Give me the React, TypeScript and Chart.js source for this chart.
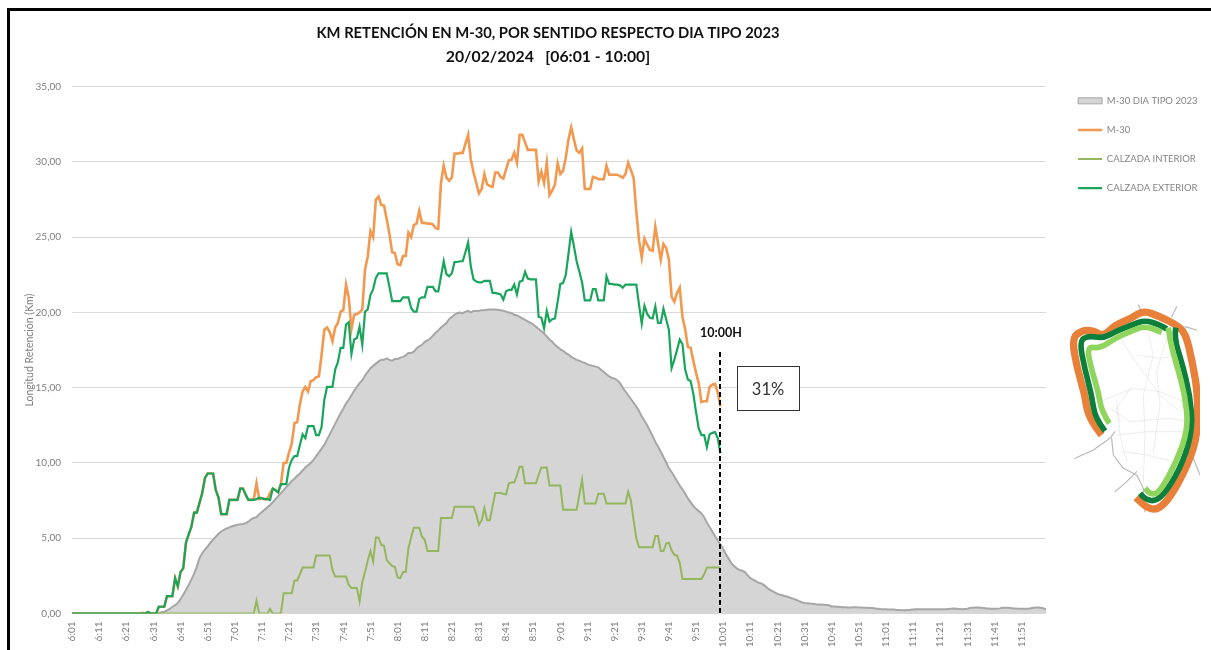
import React, { useEffect, useRef } from "react";
import { Chart, registerables } from "chart.js";

Chart.register(...registerables);

const FONT = "Lato, 'Open Sans', sans-serif";
const timeLabels: string[] = [];
for (let h = 6; h < 12; h++) {
  for (let m = 1; m <= 60; m++) {
    timeLabels.push(m === 60 ? `${h + 1}:00` : `${h}:${String(m).padStart(2, "0")}`);
  }
}

const seriesNames = ["M-30 DIA TIPO 2023", "M-30", "CALZADA INTERIOR", "CALZADA EXTERIOR"];

const diaTipo = [
  0,0,0,0,0,0,0,0,0,0,
  0,0,0,0,0,0,0,0,0,0,
  0,0,0,0,0,0,0,0,0,0,
  0,0,0.03,0.08,0.12,0.2,0.3,0.45,0.55,0.7,
  0.95,1.25,1.56,1.9,2.25,2.65,3.1,3.7,4.0,4.25,
  4.45,4.7,4.9,5.1,5.3,5.45,5.55,5.65,5.72,5.8,
  5.85,5.9,5.93,5.95,6.0,6.1,6.25,6.35,6.4,6.6,
  6.75,6.9,7.05,7.2,7.4,7.6,7.8,8.0,8.2,8.4,
  8.6,8.8,8.95,9.15,9.3,9.5,9.7,9.85,10.0,10.2,
  10.45,10.7,10.95,11.2,11.55,11.9,12.25,12.6,12.95,13.3,
  13.6,13.95,14.2,14.5,14.8,15.05,15.3,15.5,15.8,16.05,
  16.3,16.45,16.6,16.75,16.85,16.85,16.95,16.85,16.8,16.9,
  16.9,17.0,17.05,17.15,17.3,17.3,17.4,17.6,17.75,17.85,
  18.05,18.15,18.25,18.45,18.65,18.8,19.0,19.15,19.3,19.55,
  19.7,19.85,19.95,20.0,19.95,20.05,20.1,20.0,20.1,20.1,
  20.12,20.15,20.15,20.18,20.2,20.2,20.2,20.18,20.15,20.12,
  20.05,20.0,19.95,19.85,19.8,19.7,19.6,19.5,19.4,19.3,
  19.2,19.05,18.9,18.75,18.6,18.4,18.2,18.05,17.85,17.7,
  17.55,17.45,17.3,17.2,17.05,16.95,16.85,16.8,16.7,16.65,
  16.55,16.5,16.45,16.4,16.35,16.2,16.05,15.9,15.75,15.65,
  15.6,15.5,15.3,15.0,14.75,14.5,14.25,14.0,13.75,13.45,
  13.1,12.8,12.5,12.15,11.8,11.4,11.1,10.75,10.4,10.05,
  9.65,9.4,9.1,8.8,8.5,8.25,7.95,7.65,7.4,7.15,
  6.95,6.8,6.65,6.4,6.05,5.75,5.45,5.15,4.85,4.6,
  4.3,3.95,3.65,3.35,3.15,3.0,2.9,2.85,2.75,2.55,
  2.35,2.25,2.15,2.05,2.0,1.9,1.75,1.6,1.5,1.4,
  1.3,1.25,1.2,1.15,1.1,1.03,0.97,0.9,0.82,0.75,
  0.7,0.68,0.66,0.65,0.62,0.6,0.6,0.58,0.57,0.55,
  0.47,0.46,0.45,0.44,0.42,0.42,0.4,0.4,0.42,0.41,
  0.4,0.4,0.39,0.38,0.37,0.36,0.34,0.32,0.3,0.29,
  0.28,0.27,0.27,0.26,0.24,0.23,0.22,0.22,0.24,0.25,
  0.27,0.28,0.28,0.28,0.28,0.28,0.28,0.28,0.28,0.28,
  0.28,0.28,0.28,0.3,0.32,0.33,0.32,0.3,0.28,0.3,
  0.32,0.36,0.39,0.4,0.4,0.39,0.37,0.34,0.33,0.32,
  0.32,0.32,0.34,0.38,0.39,0.39,0.37,0.34,0.33,0.32,
  0.32,0.32,0.32,0.33,0.37,0.4,0.4,0.38,0.35,0.27,
];

const m30 = [
  0,0,0,0,0,0,0,0,0,0,
  0,0,0,0,0,0,0,0,0,0,
  0,0,0,0,0,0,0.05,0,0.1,0,
  0,0,0.45,0.45,0.45,1.15,1.15,1.15,2.35,1.8,
  2.75,3.0,4.7,5.25,5.75,6.7,6.7,7.35,8.0,9.0,
  9.3,9.3,9.3,8.2,7.7,6.6,6.6,6.6,7.55,7.55,
  7.55,7.55,8.3,8.3,7.9,7.55,7.55,7.6,8.65,7.6,
  7.65,7.6,7.6,8.0,8.3,8.2,8.05,8.6,10.0,10.0,
  10.7,11.3,12.65,12.7,13.9,14.75,15.05,14.75,15.45,15.5,
  15.7,15.75,17.2,18.85,19.0,18.7,18.1,19.0,19.3,20.05,
  20.15,21.85,21.0,18.9,19.85,19.9,20.0,20.2,22.85,23.7,
  25.4,25.0,27.5,27.7,27.15,27.1,26.2,25.2,24.0,23.95,
  23.2,23.15,23.75,23.75,25.3,25.0,25.8,25.9,26.75,25.95,
  25.95,25.9,25.9,25.85,25.6,25.55,28.6,29.75,28.95,28.75,
  28.95,30.55,30.55,30.6,30.6,31.2,31.8,30.15,29.3,28.6,
  27.9,28.2,29.2,28.5,28.4,28.35,29.3,29.3,29.0,28.9,
  29.5,30.1,30.15,30.6,29.95,31.8,31.8,31.3,30.8,30.8,
  30.8,30.8,28.7,29.35,28.6,29.95,27.8,28.1,28.5,29.9,
  29.2,29.4,30.3,31.5,32.3,31.5,30.75,30.6,30.9,28.2,
  28.2,28.2,29.0,28.95,28.85,28.85,28.85,29.75,29.15,29.15,
  29.15,29.15,29.05,28.95,29.2,29.95,29.45,28.95,26.7,24.8,
  23.65,24.9,24.5,24.15,24.1,25.7,24.6,23.5,24.55,24.3,
  23.5,21.05,20.7,21.3,21.65,19.7,18.9,17.7,17.65,16.8,
  16.0,15.3,14.05,14.1,14.1,15.05,15.2,15.25,14.7,13.75,
];

const calzadaInterior = [
  0,0,0,0,0,0,0,0,0,0,
  0,0,0,0,0,0,0,0,0,0,
  0,0,0,0,0,0,0,0,0,0,
  0,0,0,0,0,0,0,0,0,0,
  0,0,0,0,0,0,0,0,0,0,
  0,0,0,0,0,0,0,0,0,0,
  0,0,0,0,0,0,0,0,0.85,0,
  0,0,0,0.3,0,0,0,0,1.35,1.35,
  1.35,1.35,2.2,2.2,2.6,3.05,3.05,3.05,3.05,3.05,
  3.85,3.85,3.85,3.85,3.85,3.85,2.9,2.45,2.45,2.45,
  2.45,2.45,1.9,1.7,1.7,1.7,0.8,2.1,2.75,3.5,
  4.15,3.45,5.05,5.05,4.55,4.5,3.55,3.35,3.15,3.1,
  2.4,2.35,2.75,2.75,4.35,5.05,5.7,5.7,5.7,5.1,
  4.9,4.15,4.15,4.15,4.15,4.15,6.35,6.35,6.35,6.35,
  6.35,7.1,7.1,7.1,7.1,7.1,7.1,7.1,7.1,6.6,
  5.9,6.2,7.0,6.2,6.2,7.1,8.0,8.0,8.0,7.95,
  7.9,8.65,8.7,8.7,9.2,9.75,9.75,8.65,8.65,8.65,
  8.65,8.65,9.2,9.7,9.7,9.7,8.5,8.5,8.5,8.5,
  8.5,6.9,6.9,6.9,6.9,6.9,6.9,7.9,8.9,7.3,
  7.3,7.3,7.3,7.3,7.95,7.95,7.95,7.3,7.3,7.3,
  7.3,7.3,7.3,7.3,7.3,8.1,7.5,6.2,5.0,4.4,
  4.4,4.4,4.4,4.4,4.4,5.15,5.15,4.15,4.15,4.65,
  4.7,4.2,3.9,3.85,3.35,2.3,2.3,2.3,2.3,2.3,
  2.3,2.3,2.3,2.6,3.05,3.05,3.05,3.05,3.05,3.05,
];

const calzadaExterior = [
  0,0,0,0,0,0,0,0,0,0,
  0,0,0,0,0,0,0,0,0,0,
  0,0,0,0,0,0,0,0,0.1,0,
  0,0,0.45,0.45,0.45,1.15,1.15,1.15,2.35,1.8,
  2.75,3.0,4.7,5.25,5.75,6.7,6.7,7.35,8.0,9.0,
  9.3,9.3,9.3,8.2,7.7,6.6,6.6,6.6,7.55,7.55,
  7.55,7.55,8.3,8.3,7.9,7.55,7.55,7.55,7.6,7.7,
  7.65,7.6,7.6,7.55,8.3,8.2,8.05,8.6,8.6,8.6,
  9.7,10.2,10.45,10.45,11.2,11.9,11.65,12.45,12.45,12.45,
  11.85,11.85,12.4,14.2,15.05,15.05,15.05,16.2,16.7,17.65,
  17.65,19.2,19.35,17.25,18.2,18.3,19.05,17.85,20.05,20.2,
  21.15,21.55,22.3,22.6,22.6,22.6,22.6,21.7,20.75,20.75,
  20.75,20.75,21.0,21.0,21.0,20.3,20.05,20.05,20.9,21.0,
  21.0,21.7,21.7,21.7,21.4,21.4,22.4,23.4,22.55,22.4,
  22.6,23.35,23.35,23.4,23.4,24.0,24.65,23.05,22.2,22.05,
  22.0,22.0,22.1,22.1,22.1,21.3,21.3,21.25,21.2,20.85,
  21.4,21.5,21.5,21.85,21.2,22.05,22.1,22.7,22.25,22.2,
  22.2,22.2,19.7,19.65,18.95,20.1,19.4,19.55,19.6,20.7,
  21.9,21.95,22.5,23.9,25.35,24.4,23.4,22.7,22.0,20.8,
  20.8,20.8,21.55,21.55,20.8,20.8,20.8,22.4,21.9,21.9,
  21.85,21.85,21.8,21.65,21.85,21.85,21.85,21.85,21.85,20.5,
  19.25,20.45,19.9,19.65,19.6,20.4,19.3,19.3,20.25,19.55,
  18.85,16.3,16.85,17.5,18.2,17.9,16.2,15.55,15.45,14.6,
  13.4,12.3,11.85,11.85,11.05,11.9,12.0,12.05,11.65,10.65,
];

const titleText = "KM RETENCIÓN EN M-30, POR SENTIDO RESPECTO DIA TIPO 2023";
const subtitleText = "20/02/2024   [06:01 - 10:00]";
const cutIndex = 239;
const cutLabel = "10:00H";
const cutPercent = "31%";

const decorations = {
  id: "decorations",
  beforeDraw(chart: any) {
    const c = chart.ctx;
    c.save();
    c.fillStyle = "#fff";
    c.fillRect(0, 0, chart.width, chart.height);
    c.fillStyle = "#000";
    c.fillRect(7, 8, 3, chart.height - 8);
    c.fillRect(7, 8, chart.width - 7, 3);
    c.restore();
  },
  beforeLayout(chart: any) {
    const l = chart.legend;
    if (l && !l.__patched) {
      const f = l.fit;
      l.fit = function () {
        f.call(this);
        this.width = 165;
      };
      l.__patched = true;
    }
  },
  afterLayout(chart: any) {
    chart.boxes
      .filter((b: any) => b.options && typeof b.options.text === "string" && b.position === "top")
      .forEach((b: any) => {
        b.left = 0;
        b.right = 1096;
      });
    chart.legend.left = 1058.5;
    chart.legend.top = 76.5;
  },
  afterDatasetsDraw(chart: any) {
    const c = chart.ctx;
    const x = Math.round(chart.scales.x.getPixelForValue(cutIndex));
    const bottom = chart.scales.y.getPixelForValue(0);
    c.save();
    c.strokeStyle = "#000";
    c.lineWidth = 2;
    c.setLineDash([5, 3]);
    c.beginPath();
    c.moveTo(x, 352);
    c.lineTo(x, bottom);
    c.stroke();
    c.setLineDash([]);
    c.fillStyle = "#111";
    c.font = `bold 12.5px ${FONT}`;
    c.textAlign = "center";
    c.textBaseline = "middle";
    c.fillText(cutLabel, x + 1, 333);
    c.fillStyle = "#fff";
    c.fillRect(737, 366, 63, 44);
    c.strokeStyle = "#333";
    c.lineWidth = 1;
    c.strokeRect(737.5, 366.5, 62, 44);
    c.fillStyle = "#333";
    c.font = `16.5px ${FONT}`;
    c.fillText(cutPercent, 768, 390);
    c.restore();
  },
};

const smooth = (pts: number[][]) => {
  let d = `M${pts[0][0]} ${pts[0][1]}`;
  for (let i = 1; i < pts.length - 1; i++) {
    const mx = (pts[i][0] + pts[i + 1][0]) / 2;
    const my = (pts[i][1] + pts[i + 1][1]) / 2;
    d += `Q${pts[i][0]} ${pts[i][1]} ${mx} ${my}`;
  }
  const last = pts[pts.length - 1];
  return `${d}L${last[0]} ${last[1]}`;
};

const roads = [
  "M235 30L245 50", "M350 35L335 65", "M375 95L410 105", "M45 490L100 465L150 430L165 410",
  "M165 590L195 565L230 530", "M155 430L160 480L190 520L230 540L250 580L255 650", "M400 490L420 540",
];
const faint = [
  "M265 115L280 180L250 300L255 420L250 560", "M180 130L220 190L300 300L360 350", "M120 320L220 280L300 290L370 320",
  "M150 340L210 380L330 370L385 380", "M320 130L290 230L300 330L280 470", "M170 420L260 410L380 410", "M190 470L260 480L340 500",
  "M170 320L180 420L200 500", "M215 275L170 340L180 380", "M230 180L300 190L350 180",
];
const ringOrange = smooth([[125,420],[85,370],[75,300],[50,215],[36,130],[65,106],[100,106],[130,125],[165,90],[215,70],[250,46],[300,65],[355,92],[378,120],[397,200],[414,300],[412,420],[387,500],[342,590],[300,642],[265,642],[228,608]]);
const darkA = smooth([[135,408],[105,370],[95,300],[75,225],[58,138],[85,122],[130,130],[165,110],[215,90],[255,75],[300,90],[320,102]]);
const darkB = smooth([[347,98],[343,130],[365,200],[390,300],[398,400],[370,500],[320,590],[285,620],[255,612],[240,595]]);
const lightA = smooth([[148,385],[125,350],[115,290],[95,225],[80,155],[120,160],[165,130],[210,110],[255,92],[305,112]]);
const lightB = smooth([[325,98],[330,140],[350,210],[375,300],[385,400],[350,500],[300,590],[275,600],[255,580]]);

export default function App() {
  const ref = useRef<HTMLCanvasElement | null>(null);

  useEffect(() => {
    const chart = new Chart(ref.current as HTMLCanvasElement, {
      type: "line",
      plugins: [decorations],
      data: {
        labels: timeLabels,
        datasets: [
          { label: seriesNames[0], data: diaTipo, order: 4, borderColor: "#a6a6a6", backgroundColor: "#d5d5d5", borderWidth: 2, fill: "origin", pointRadius: 0, tension: 0 },
          { label: seriesNames[1], data: m30, order: 3, borderColor: "#f2994f", backgroundColor: "#f2994f", borderWidth: 2.6, pointRadius: 0, tension: 0 },
          { label: seriesNames[2], data: calzadaInterior, order: 2, borderColor: "#94b65c", backgroundColor: "#94b65c", borderWidth: 2, pointRadius: 0, tension: 0 },
          { label: seriesNames[3], data: calzadaExterior, order: 1, borderColor: "#19a55c", backgroundColor: "#19a55c", borderWidth: 2.2, pointRadius: 0, tension: 0 },
        ],
      },
      options: {
        responsive: false,
        animation: false,
        layout: { padding: 0 },
        plugins: {
          tooltip: { enabled: false },
          title: {
            display: true,
            text: titleText,
            color: "#111",
            font: { family: FONT, size: 14.75, weight: "bold", lineHeight: 1.2 },
            padding: { top: 24, bottom: 0 },
          },
          subtitle: {
            display: true,
            text: subtitleText,
            color: "#111",
            font: { family: FONT, size: 15.8, weight: "bold", lineHeight: 1.2 },
            padding: { top: 6, bottom: 20 },
          },
          legend: {
            display: true,
            position: "right",
            align: "start",
            labels: {
              usePointStyle: true,
              pointStyleWidth: 24,
              boxHeight: 6,
              padding: 19.6,
              color: "#858585",
              font: { family: FONT, size: 9.5 },
              generateLabels: (ch: any) =>
                ch.data.datasets.map((d: any, i: number) => ({
                  text: d.label,
                  datasetIndex: i,
                  hidden: false,
                  pointStyle: i === 0 ? "rect" : "line",
                  fillStyle: d.backgroundColor,
                  strokeStyle: d.borderColor,
                  lineWidth: i === 0 ? 1 : d.borderWidth,
                  fontColor: "#858585",
                })),
            },
          },
        },
        scales: {
          x: {
            afterFit: (s: any) => { s.height = 36.5; },
            grid: { display: false, drawTicks: false },
            border: { display: false },
            ticks: {
              autoSkip: false,
              minRotation: 90,
              maxRotation: 90,
              padding: 8,
              color: "#7f7f7f",
              font: { family: FONT, size: 10 },
              callback: (_v: any, i: number) => (i % 10 === 0 ? timeLabels[i] : ""),
            },
          },
          y: {
            min: 0,
            max: 35,
            afterFit: (s: any) => { s.width = 72; },
            grid: { color: "#d9d9d9", lineWidth: 1, drawTicks: false },
            border: { display: false },
            ticks: {
              stepSize: 5,
              padding: 11,
              color: "#7f7f7f",
              font: { family: FONT, size: 10 },
              callback: (v: any) => Number(v).toFixed(2).replace(".", ","),
            },
            title: {
              display: true,
              text: "Longitud Retención (Km)",
              color: "#7f7f7f",
              font: { family: FONT, size: 10.5 },
              padding: { top: 23, bottom: 0 },
            },
          },
        },
      },
    } as any);
    return () => chart.destroy();
  }, []);

  return (
    <div style={{ position: "absolute", left: 0, top: 0, width: 1211, height: 650, overflow: "hidden", background: "#fff" }}>
      <canvas ref={ref} width={1211} height={650} style={{ display: "block" }} />
      <svg width={140} height={225} viewBox="0 0 420 675" style={{ position: "absolute", left: 1060, top: 295 }}>
        <g fill="none" strokeLinejoin="round" strokeLinecap="round">
          {faint.map((d) => <path key={d} d={d} stroke="#e2e2e2" strokeWidth={2} />)}
          {roads.map((d) => <path key={d} d={d} stroke="#b8b8b8" strokeWidth={3.5} />)}
        </g>
        <g fill="none" strokeLinejoin="round" strokeLinecap="butt">
          <path d={ringOrange} stroke="#e8803a" strokeWidth={22} />
          <path d={darkA} stroke="#0b7f3b" strokeWidth={17} />
          <path d={darkB} stroke="#0b7f3b" strokeWidth={17} />
          <path d={lightA} stroke="#8fd45c" strokeWidth={17} />
          <path d={lightB} stroke="#8fd45c" strokeWidth={17} />
        </g>
      </svg>
    </div>
  );
}
